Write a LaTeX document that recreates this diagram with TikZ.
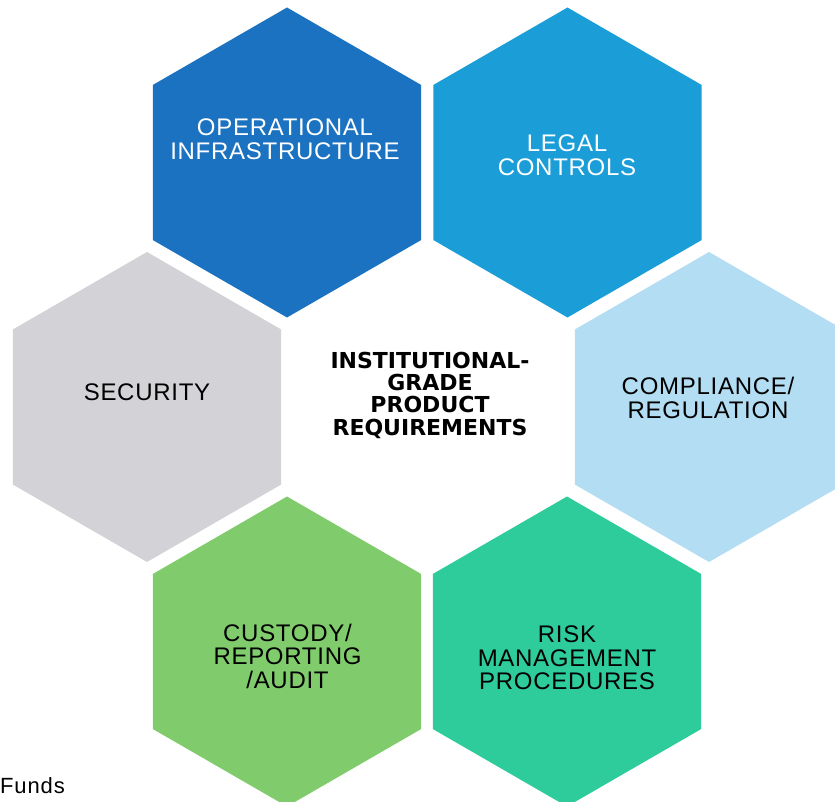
\documentclass[tikz,border=0pt]{standalone}
\usepackage{fontspec}
\setmainfont{Liberation Sans}
\newfontfamily\boldhexfont{DejaVu Sans}
\usepackage{tikz}
\usetikzlibrary{shapes.geometric}
\definecolor{opblue}{HTML}{1B72C0}
\definecolor{legalblue}{HTML}{1B9ED8}
\definecolor{secgrey}{HTML}{D3D2D6}
\definecolor{compblue}{HTML}{B3DDF3}
\definecolor{custgreen}{HTML}{80CC6C}
\definecolor{riskgreen}{HTML}{2DCC9A}

\begin{document}
\begin{tikzpicture}[x=1pt,y=-1pt,
  hexa/.style={regular polygon,regular polygon sides=6,shape border rotate=30,
    minimum size=310pt,inner sep=0pt,draw=none},
  hextext/.style={align=center,inner sep=0pt,
    font=\fontsize{24}{23.5}\selectfont\addfontfeature{LetterSpace=3}}]
  \useasboundingbox (0,0) rectangle (835,802);
  \clip (0,0) rectangle (835,802);
  % the six cells
  \node[hexa,fill=opblue] (opinf) at (287,162.5) {};
  \node[hexa,fill=legalblue] (legal) at (567.5,162.5) {};
  \node[hexa,fill=secgrey] (security) at (147,407) {};
  \node[hexa,fill=compblue] (compliance) at (709,407) {};
  \node[hexa,fill=custgreen] (custody) at (287,651.5) {};
  \node[hexa,fill=riskgreen] (risk) at (567,651.5) {};
  % labels
  \node[hextext,white] (opinftxt) at (285,139) {OPERATIONAL\\INFRASTRUCTURE};
  \node[hextext,white] (legaltxt) at (567,155) {LEGAL\\CONTROLS};
  \node[hextext] (securitytxt) at (147,392) {SECURITY};
  \node[hextext] (compliancetxt) at (708,398) {COMPLIANCE/\\REGULATION};
  \node[hextext] (custodytxt) at (287.5,656) {CUSTODY/\\REPORTING\\/AUDIT};
  \node[hextext] (risktxt) at (567,658) {RISK\\MANAGEMENT\\PROCEDURES};
  \node[align=center,inner sep=0pt,
    font=\boldhexfont\bfseries\fontsize{22}{22.3}\selectfont] (req) at (430,395)
    {INSTITUTIONAL-\\GRADE\\PRODUCT\\REQUIREMENTS};
  \node[anchor=base west,inner sep=0pt,
    font=\fontsize{22}{22}\selectfont\addfontfeature{LetterSpace=4}] (source) at (0,793.3) {Funds};
\end{tikzpicture}
\end{document}
